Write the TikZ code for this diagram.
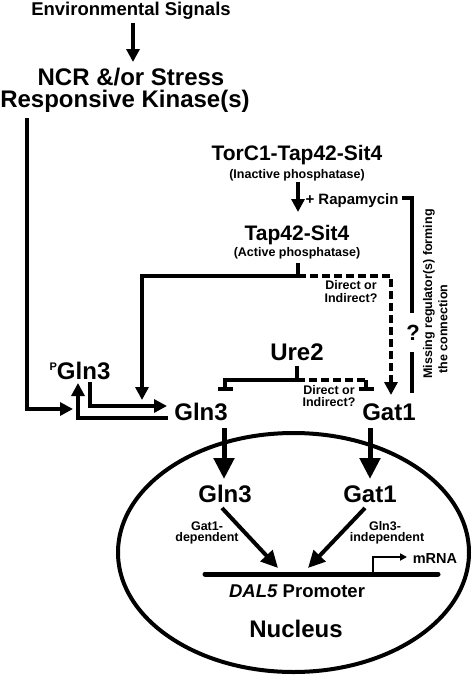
\documentclass[tikz,border=0pt]{standalone}
\usepackage{fontspec}
\setmainfont{Liberation Sans}
\usetikzlibrary{arrows.meta,calc}
\newcommand\fsz[1]{\fontsize{#1}{#1}\selectfont\bfseries}
\begin{document}
\begin{tikzpicture}[x=1pt,y=-1pt,
  lbl/.style={anchor=base,inner sep=0pt,outer sep=0pt},
  con/.style={line width=3.5pt},
  arr/.style={con,-{Triangle[length=13pt,width=13pt]}},
  arrbig/.style={line width=5pt,-{Triangle[length=21pt,width=20pt]}},
  arrmid/.style={line width=4pt,-{Triangle[length=17pt,width=16pt]}},
  dsh/.style={dash pattern=on 8pt off 4pt},
  tbar/.style={con,-{Bar[width=15pt,line width=4pt]}}]
\useasboundingbox (0,0) rectangle (475,678);

% nucleus
\draw[line width=4pt] (293.5,552.5) ellipse [x radius=175.5pt, y radius=119.5pt];

% labels
\node[lbl,font=\fsz{18.5}] (env) at (131,15) {Environmental Signals};
\node[lbl,font=\fsz{24}] (ncr1) at (131,85) {NCR \&/or Stress};
\node[lbl,font=\fsz{24}] (ncr2) at (125,107) {Responsive Kinase(s)};
\node[lbl,font=\fsz{21}] (torc) at (297,160) {TorC1-Tap42-Sit4};
\node[lbl,font=\fsz{12.5}] (inact) at (297,178) {(Inactive phosphatase)};
\node[lbl,font=\fsz{15}] (rapa) at (352,204) {+ Rapamycin};
\node[lbl,font=\fsz{21}] (tap) at (297,240) {Tap42-Sit4};
\node[lbl,font=\fsz{12.5}] (act) at (297,256) {(Active phosphatase)};
\node[lbl,font=\fsz{12.5}] (dir1a) at (351,289) {Direct or};
\node[lbl,font=\fsz{12.5}] (dir1b) at (351,302) {Indirect?};
\node[lbl,font=\fsz{22}] (q) at (413,340) {?};
\node[font=\fsz{12.5},rotate=90,inner sep=0pt] (miss1) at (429,294) {Missing regulator(s) forming};
\node[font=\fsz{12.5},rotate=90,inner sep=0pt] (miss2) at (443,329) {the connection};
\node[lbl,font=\fsz{24}] (ure) at (297,360) {Ure2};
\node[lbl,font=\fsz{24}] (pgln) at (80,379) {\raisebox{9pt}{\fsz{11}P}Gln3};
\node[lbl,font=\fsz{24}] (gln3) at (201,420) {Gln3};
\node[lbl,font=\fsz{24}] (gat1) at (389,420) {Gat1};
\node[lbl,font=\fsz{12.5}] (dir2a) at (329,394) {Direct or};
\node[lbl,font=\fsz{12.5}] (dir2b) at (329,406) {Indirect?};
\node[lbl,font=\fsz{24}] (ngln) at (225,502) {Gln3};
\node[lbl,font=\fsz{24}] (ngat) at (370,502) {Gat1};
\node[lbl,font=\fsz{12.5}] (dep1) at (207,530) {Gat1-};
\node[lbl,font=\fsz{12.5}] (dep2) at (207,541) {dependent};
\node[lbl,font=\fsz{12.5}] (ind1) at (385,530) {Gln3-};
\node[lbl,font=\fsz{12.5}] (ind2) at (387,541) {independent};
\node[lbl,font=\fsz{14.5}] (mrna) at (435,563) {mRNA};
\node[lbl,font=\fsz{18.5}] (dal) at (297,597) {\textit{DAL5} Promoter};
\node[lbl,font=\fsz{24}] (nuc) at (296,637) {Nucleus};

% promoter
\coordinate (prL) at (205,574);
\coordinate (prR) at (438,574);
\draw[line width=5pt,line cap=round] (prL) -- (prR);
\draw[line width=2pt,-{Triangle[length=7pt,width=7pt]}] ($(prL)+(168,0)$) |- ($(mrna.base)+(-28,-6)$);

% connectors
\draw[arr] ($(env.base)+(2,8)$) -- ($(ncr1.base)+(2,-23)$);
\draw[arr] ($(ncr2.base)+(-98,11)$) |- ($(pgln.base)+(-7,30)$);
\draw[arr] ($(inact.base)+(1,4)$) -- ($(tap.base)+(1,-28)$);
\draw[con] ($(rapa.base)+(50,-6)$) -| ($(q.base)+(-1,-27)$);
\draw[con] ($(q.base)+(-1,12)$) -- ($(gat1.base)+(23,-27)$);
\draw[arr] ($(act.base)+(1,7)$) -- ($(act.base)+(1,20)$) -| ($(gln3.base)+(-59,-20)$);
\draw[arr,dsh] ($(act.base)+(1,20)$) -| ($(gat1.base)+(2,-25)$);
\draw[arr] ($(gln3.base)+(-33,-2)$) -| ($(pgln.base)+(-2,4)$);
\draw[arr] ($(pgln.base)+(10,3)$) |- ($(gln3.base)+(-34,-14)$);
\draw[con] ($(ure.base)+(0,6)$) -- ($(ure.base)+(0,20)$);
\draw[tbar] ($(ure.base)+(0,20)$) -| ($(gln3.base)+(24,-29)$);
\draw[con,dsh] ($(ure.base)+(0,20)$) -- ($(gat1.base)+(-23,-40)$);
\draw[tbar] ($(gat1.base)+(-23,-40)$) -- ($(gat1.base)+(-23,-29)$);
\draw[arrbig] ($(gln3.base)+(23,8)$) -- ($(ngln.base)+(-1,-23)$);
\draw[arrbig] ($(gat1.base)+(-19,8)$) -- ($(ngat.base)+(0,-23)$);
\draw[arrmid] ($(ngln.base)+(-3,6)$) -- ($(prL)+(73,-6)$);
\draw[arrmid] ($(ngat.base)+(-5,6)$) -- ($(prL)+(103,-6)$);
\end{tikzpicture}
\end{document}
